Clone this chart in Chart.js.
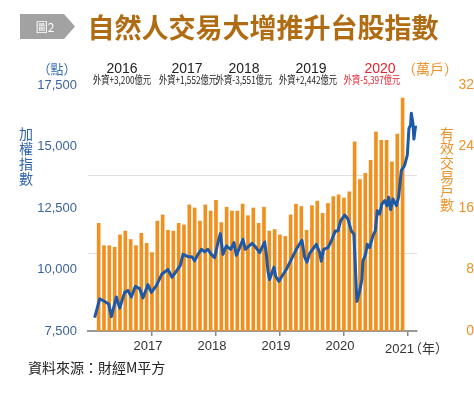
<!DOCTYPE html>
<html>
<head>
<meta charset="utf-8">
<script src="https://cdn.jsdelivr.net/npm/chart.js@4.4.1/dist/chart.umd.min.js"></script>
<style>
  html, body { margin: 0; padding: 0; background: #fff; }
  #wrap { position: relative; width: 474px; height: 393px; overflow: hidden;
          font-family: 'Noto Sans CJK TC', 'Noto Sans', sans-serif; }
  #wrap canvas { position: absolute; left: 0; top: 0; }
  .t { position: absolute; white-space: nowrap; line-height: 1; transform: translate(-50%, -50%); }
  .num { font-family: 'Liberation Sans', Arial, sans-serif; }
  .flow { font-size: 11px; transform: translate(-50%, -50%) scaleX(0.75); }
  .badge { position: absolute; left: 20px; top: 14px; width: 55px; height: 25px; background: #a2a2a2;
           clip-path: polygon(0 0, 80% 0, 100% 50%, 80% 100%, 0 100%); }
  .vert { position: absolute; width: 16px; text-align: center; white-space: normal; }
</style>
</head>
<body>
<div id="wrap">
  <canvas id="c" width="474" height="393"></canvas>

  <div class="badge"></div>
  <div class="t" style="left:45px; top:27px; font-size:12px; color:#fff;">圖2</div>
  <div class="t" style="left:263px; top:26px; font-size:27px; font-weight:bold; color:#b06c12;">自然人交易大增推升台股指數</div>

  <div class="t" style="left:57px; top:68px; font-size:13px; color:#3a6fb6;">（點）</div>
  <div class="t" style="left:430px; top:68px; font-size:14px; color:#f0922b;">（萬戶）</div>

  <div class="vert" style="left:18px; top:126px; font-size:14px; line-height:15px; color:#2e64ad;">加權指數</div>
  <div class="vert" style="left:439px; top:126px; font-size:14px; line-height:14.3px; color:#f0922b;">有效交易戶數</div>

  <div style="position:absolute; left:385px; top:340px; font-size:13px; line-height:15px; color:#333; white-space:nowrap;"><span class="num" id="lastYear"></span><span style="font-size:13px; margin-left:-5px;">（年）</span></div>
  <div style="position:absolute; left:28px; top:359px; font-size:14px; line-height:16px; color:#222;">資料來源：財經M平方</div>
</div>

<script>
// 年度刻度 (月份序號, 0 = 2016年1月)
const yearLabels = ['2017', '2018', '2019', '2020', '2021'];
const yearTickMonths = [12, 24, 36, 48, 60];

// 上方年度外資買賣超
const topYears = ['2016', '2017', '2018', '2019', '2020'];
const foreignFlow = ['外資+3,200億元', '外資+1,552億元', '外資-3,551億元', '外資+2,442億元', '外資-5,397億元'];

// 有效交易戶數 (萬戶), 2016年3月 ~ 2020年12月
const barStartMonth = 2;
const accounts = [
  14.0, 11.1, 11.1, 10.9, 12.5, 13.0, 11.9, 11.1, 12.7, 11.4,
  10.2, 14.3, 15.1, 13.1, 13.0, 14.0, 13.8, 16.4, 16.0, 14.3,
  16.4, 15.6, 17.0, 14.1, 16.1, 15.6, 15.6, 16.5, 15.0, 16.0,
  14.0, 16.1, 13.0, 13.2, 12.5, 12.3, 15.1, 16.5, 16.2, 13.1,
  16.3, 16.9, 15.3, 16.6, 17.5, 17.7, 17.3, 18.1, 24.6, 19.7,
  20.5, 22.2, 25.9, 24.8, 24.8, 22.0, 25.6, 30.3
];

// 加權指數 (點)
const indexMonths = [
  1.25, 2.19, 3.13, 3.88, 4.38, 5.32, 5.94, 6.88, 7.49, 8.13,
  8.88, 9.69, 10.31, 11.24, 11.88, 12.82, 13.87, 15.0, 15.75, 16.57,
  17.32, 17.81, 18.75, 19.5, 20.0, 20.62, 21.26, 21.87, 22.49, 23.13,
  23.75, 24.37, 24.82, 25.31, 25.94, 26.75, 27.37, 27.82, 28.44, 29.06,
  29.51, 30.0, 30.75, 31.38, 32.19, 33.13, 33.45, 33.75, 34.06, 34.5,
  34.87, 35.19, 35.81, 36.37, 37.19, 38.13, 39.07, 40.12, 40.63, 41.06,
  41.56, 41.88, 42.82, 43.44, 43.75, 44.19, 45.0, 45.63, 46.38, 46.87,
  47.38, 48.13, 48.75, 49.38, 49.87, 50.13, 50.43, 50.94, 51.37, 51.56,
  52.06, 52.38, 52.81, 53.43, 53.88, 54.26, 54.69, 55.12, 55.63, 56.06,
  56.38, 56.75, 57.19, 57.82, 58.25, 58.76, 59.38, 59.88, 60.19, 60.5,
  60.63, 60.94, 61.12, 61.44
];
const indexValues = [
  8045, 8810, 8700, 8600, 8085, 8880, 8430, 9070, 9150, 8880,
  9315, 9220, 8840, 9385, 9070, 9345, 9820, 10000, 9685, 9930,
  10165, 10615, 10520, 10520, 10350, 10615, 10820, 10725, 10820, 10615,
  10480, 11095, 11460, 10615, 10955, 10820, 11095, 10575, 10890, 11230,
  10820, 10915, 11065, 10930, 10685, 11120, 10615, 9930, 9590, 9865,
  10095, 9725, 9520, 9725, 10000, 10410, 10820, 11190, 10500, 10300,
  10650, 10750, 11025, 10685, 10340, 10820, 10890, 11160, 11570, 11570,
  11980, 12215, 12050, 11570, 11435, 10135, 8700, 9110, 9590, 10340,
  10615, 11025, 10890, 11365, 11570, 12390, 12255, 12665, 12800, 12595,
  12940, 12430, 12870, 12595, 12940, 14030, 14235, 14645, 15740, 15875,
  16350, 15950, 15300, 15850
];

// 上方標註
const wrap = document.getElementById('wrap');
const yearX = [122, 187, 244, 311, 380];
const flowX = [122, 188, 244, 308, 372];
topYears.forEach((y, i) => {
  const red = i === topYears.length - 1;
  const a = document.createElement('div');
  a.className = 't num';
  a.style.cssText = `left:${yearX[i]}px; top:68px; font-size:14px; color:${red ? '#e2242f' : '#222'};`;
  a.textContent = y;
  wrap.appendChild(a);
  const b = document.createElement('div');
  b.className = 't flow';
  b.style.cssText = `left:${flowX[i]}px; top:79px; color:${red ? '#e2242f' : '#222'};`;
  b.textContent = foreignFlow[i];
  wrap.appendChild(b);
});
// 最後一個年份與 (年) 一起放在軸下
document.getElementById('lastYear').textContent = yearLabels[yearLabels.length - 1];

const barData = accounts.map((v, i) => ({ x: barStartMonth + i, y: v }));
const lineData = indexMonths.map((m, i) => ({ x: m, y: indexValues[i] }));

const numFont = "'Liberation Sans', Arial, sans-serif";

new Chart(document.getElementById('c'), {
  type: 'bar',
  data: {
    datasets: [
      {
        type: 'line',
        label: '加權指數',
        data: lineData,
        yAxisID: 'y',
        borderColor: '#1c5aa8',
        borderWidth: 3,
        pointRadius: 0,
        tension: 0,
        borderJoinStyle: 'round',
        order: 0,
      },
      {
        type: 'bar',
        label: '有效交易戶數',
        data: barData,
        yAxisID: 'y2',
        backgroundColor: '#f0901f',
        barThickness: 3,
        order: 1,
      },
    ],
  },
  options: {
    responsive: false,
    animation: false,
    layout: { padding: { top: 85, left: 0, right: 0, bottom: 0 } },
    plugins: { legend: { display: false }, tooltip: { enabled: false } },
    scales: {
      x: {
        type: 'linear',
        min: 0,
        max: 61.7,
        offset: false,
        afterBuildTicks: s => { s.ticks = yearTickMonths.map(v => ({ value: v })); },
        ticks: {
          // 2021 由下方 HTML 連同 (年) 一起畫
          callback: v => (v === 60 ? '' : yearLabels[yearTickMonths.indexOf(v)]),
          color: '#333',
          font: { size: 13, family: numFont },
          padding: 3,
          labelOffset: -4,
          maxRotation: 0,
          autoSkip: false,
        },
        grid: { offset: false, drawOnChartArea: false, drawTicks: true, tickLength: 5, color: '#888', lineWidth: 1.5 },
        border: { color: '#999', width: 2 },
        afterFit: s => { s.height = 62; },
      },
      y: {
        position: 'left',
        min: 7500,
        max: 17500,
        ticks: {
          stepSize: 2500,
          callback: v => v.toLocaleString('en-US'),
          color: '#3a64a0',
          font: { size: 13, family: numFont },
          padding: 11,
        },
        grid: { display: false, drawTicks: false },
        border: { display: false },
        afterFit: s => { s.width = 88; },
      },
      g: {
        position: 'left',
        min: 0,
        max: 3.154,
        afterBuildTicks: s => { s.ticks = [{ value: 1 }, { value: 2 }]; },
        ticks: { display: false },
        grid: { color: '#e0e0e0', drawTicks: false, lineWidth: 1 },
        border: { display: false },
        afterFit: s => { s.width = 0; },
      },
      y2: {
        position: 'right',
        min: 0,
        max: 32,
        ticks: {
          stepSize: 8,
          color: '#f0922b',
          font: { size: 14, family: numFont },
          padding: 1,
          crossAlign: 'far',
        },
        grid: { display: false, drawTicks: false },
        border: { display: false },
        afterFit: s => { s.width = 57; },
      },
    },
  },
});
</script>
</body>
</html>
